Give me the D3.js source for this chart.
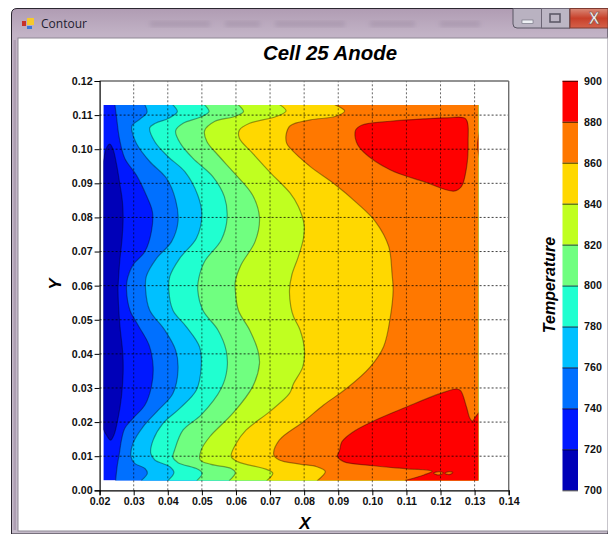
<!DOCTYPE html>
<html>
<head>
<meta charset="utf-8">
<title>Contour</title>
<script src="https://cdn.jsdelivr.net/npm/d3@7"></script>
<style>
  html, body { margin: 0; padding: 0; background: #fff; overflow: hidden; }
  svg { display: block; }
  .tick text, .label_title { font-family: "Liberation Sans", Arial, sans-serif; font-weight: bold; fill: #111; }
  .tick text { font-size: 10.7px; }
  .label_title { font-style: italic; text-anchor: middle; fill: #000; }
</style>
</head>
<body>
<svg id="chart" width="608" height="534"></svg>
<script>
let levels = [700, 720, 740, 760, 780, 800, 820, 840, 860, 880, 900]
let band_colors = ["#0000b8", "#0018ff", "#0070ff", "#00c0ff", "#20ffd0", "#70ff80", "#c0ff20", "#ffd800", "#ff7800", "#ff0000"]
let x_ticks = [0.02, 0.03, 0.04, 0.05, 0.06, 0.07, 0.08, 0.09, 0.10, 0.11, 0.12, 0.13, 0.14]
let y_ticks = [0, 0.01, 0.02, 0.03, 0.04, 0.05, 0.06, 0.07, 0.08, 0.09, 0.10, 0.11, 0.12]
let data_x = [0.0211, 0.1311]
let data_y = [0.0029, 0.113]

// isotherms, [x, y] in chart units, top to bottom
let iso720 = [[.0211,.0962],[.0220,.1003],[.0230,.1015],[.0240,.0998],[.0250,.0954],[.0259,.0900],[.0267,.0846],[.0269,.0798],[.0266,.0739],[.0259,.0671],[.0255,.0612],[.0254,.0587],[.0259,.0489],[.0268,.0401],[.0269,.0343],[.0264,.0274],[.0255,.0216],[.0242,.0162],[.0232,.0147],[.0220,.0162],[.0211,.0179]]
let iso740 = [[.0245,.113],[.0250,.1091],[.0258,.1032],[.0274,.0973],[.0308,.0924],[.0337,.0865],[.0355,.0816],[.0352,.0759],[.0333,.0700],[.0298,.0661],[.0282,.0622],[.0279,.0587],[.0289,.0528],[.0313,.0484],[.0345,.0426],[.0357,.0362],[.0352,.0304],[.0333,.0250],[.0298,.0211],[.0274,.0182],[.0264,.0147],[.0258,.0108],[.0252,.0074],[.0247,.0029]]
let iso760 = [[.0333,.113],[.0339,.1108],[.0318,.1088],[.0295,.1069],[.0295,.1052],[.0308,.1017],[.0347,.0964],[.0396,.0915],[.0423,.0851],[.0430,.0788],[.0411,.0729],[.0367,.0680],[.0337,.0627],[.0335,.0587],[.0347,.0528],[.0391,.0470],[.0423,.0411],[.0430,.0353],[.0415,.0284],[.0372,.0235],[.0328,.0187],[.0298,.0138],[.0292,.0099],[.0303,.0079],[.0333,.0064],[.0340,.0050],[.0323,.0029]]
let iso780 = [[.0415,.113],[.0428,.1110],[.0403,.1091],[.0364,.1076],[.0347,.1063],[.0362,.1022],[.0401,.0978],[.0450,.0934],[.0488,.0865],[.0500,.0807],[.0484,.0739],[.0435,.0680],[.0406,.0627],[.0403,.0587],[.0415,.0528],[.0454,.0480],[.0493,.0421],[.0498,.0362],[.0484,.0294],[.0435,.0240],[.0386,.0196],[.0357,.0147],[.0350,.0108],[.0362,.0089],[.0406,.0069],[.0418,.0052],[.0401,.0029]]
let iso800 = [[.0508,.113],[.0521,.1110],[.0493,.1093],[.0445,.1076],[.0423,.1054],[.0437,.1017],[.0474,.0973],[.0532,.0920],[.0566,.0861],[.0574,.0798],[.0557,.0734],[.0508,.0671],[.0491,.0622],[.0488,.0587],[.0503,.0528],[.0547,.0470],[.0571,.0411],[.0574,.0357],[.0557,.0299],[.0498,.0221],[.0445,.0177],[.0420,.0118],[.0415,.0097],[.0430,.0081],[.0488,.0062],[.0501,.0050],[.0486,.0029]]
let iso820 = [[.0607,.113],[.0622,.1110],[.0596,.1096],[.0537,.1081],[.0508,.1054],[.0515,.1022],[.0547,.0983],[.0596,.0929],[.0649,.0865],[.0669,.0798],[.0656,.0729],[.0615,.0661],[.0598,.0612],[.0598,.0587],[.0607,.0528],[.0640,.0470],[.0664,.0411],[.0669,.0372],[.0649,.0304],[.0591,.0226],[.0523,.0157],[.0498,.0118],[.0495,.0089],[.0527,.0076],[.0586,.0064],[.0598,.0052],[.0581,.0029]]
let iso840 = [[.0729,.113],[.0747,.1112],[.0718,.1096],[.0640,.1076],[.0610,.1056],[.0610,.1032],[.0649,.0988],[.0703,.0929],[.0759,.0871],[.0783,.0832],[.0800,.0778],[.0798,.0739],[.0783,.0685],[.0764,.0632],[.0757,.0587],[.0761,.0538],[.0769,.0509],[.0788,.0470],[.0801,.0411],[.0796,.0362],[.0769,.0313],[.0757,.0284],[.0698,.0230],[.0630,.0177],[.0601,.0138],[.0586,.0099],[.0605,.0084],[.0693,.0060],[.0708,.0050],[.0691,.0029]]
let iso860 = [[.0891,.113],[.0919,.1112],[.0891,.1096],[.0818,.1086],[.0759,.1069],[.0747,.1042],[.0749,.1017],[.0759,.1003],[.0818,.0949],[.0886,.0900],[.0955,.0842],[.1009,.0788],[.1048,.0715],[.1058,.0632],[.1061,.0587],[.1053,.0509],[.1033,.0421],[.0994,.0362],[.0925,.0299],[.0857,.0250],[.0798,.0201],[.0727,.0147],[.0711,.0104],[.0727,.0089],[.0786,.0077],[.0837,.0069],[.0862,.0055],[.0839,.0029]]
let iso880_low = [[.1314,.0230],[.1303,.0216],[.1293,.0203],[.1286,.0211],[.1276,.0245],[.1259,.0292],[.1247,.0297],[.1200,.0284],[.1102,.0245],[.0999,.0201],[.0940,.0169],[.0911,.0143],[.0904,.0118],[.0898,.0099],[.0916,.0084],[.1004,.0072],[.1102,.0063],[.1175,.0056],[.1151,.0045],[.1097,.0029]]
let iso880_top = [[.0951,.1056],[.0970,.1071],[.1053,.1082],[.1151,.1089],[.1220,.1092],[.1274,.1089],[.1281,.1022],[.1276,.0944],[.1261,.0890],[.1239,.0877],[.1151,.0905],[.1053,.0939],[.0975,.0991],[.0953,.1022]]
let iso880_edge = [[.1314,.1052],[.1308,.1012],[.1314,.0975]]
let lens_a = [[.1180,.0050],[.1195,.0055],[.1208,.0051],[.1195,.0045]]
let lens_b = [[.1213,.0050],[.1225,.0055],[.1236,.0052],[.1225,.0046]]

let width = 608,
    height = 534,
    margins = {left: 99.6, right: 99.3, top: 81, bottom: 43.7}

let svg = d3.select("#chart")

function make_scales() {
  return {
    x: d3.scaleLinear().domain([0.02, 0.14]).range([margins.left, width - margins.right]),
    y: d3.scaleLinear().domain([0, 0.12]).range([height - margins.bottom, margins.top]),
    bar: d3.scaleLinear().domain([700, 900]).range([height - margins.bottom, 80.8])
  }
}

function draw_window() {
  let defs = svg.append("defs")
  defs.append("filter").attr("id", "blur").append("feGaussianBlur").attr("stdDeviation", 2.2)
  let g = defs.append("linearGradient").attr("id", "glass").attr("x1", 0).attr("x2", 0).attr("y1", 0).attr("y2", 1)
  g.append("stop").attr("offset", "0").attr("stop-color", "#b09cb3")
  g.append("stop").attr("offset", "0.05").attr("stop-color", "#c2b3c6")
  g.append("stop").attr("offset", "1").attr("stop-color", "#c4bac9")
  let close = defs.append("linearGradient").attr("id", "closebtn").attr("x1", 0).attr("x2", 0).attr("y1", 0).attr("y2", 1)
  close.append("stop").attr("offset", "0").attr("stop-color", "#d98a78")
  close.append("stop").attr("offset", "0.5").attr("stop-color", "#c8402a")
  close.append("stop").attr("offset", "1").attr("stop-color", "#d4614a")

  let w = svg.append("g").attr("id", "window")
  w.append("path").attr("d", "M11.5,534V14Q11.5,8.5 17,8.5H608V534Z")
    .attr("fill", "url(#glass)").attr("stroke", "#2b2630").attr("stroke-width", 1)
  // blurred desktop showing through the glass
  let smudges = [[150, 210], [225, 260], [275, 345], [370, 415], [440, 480]]
  w.append("g").attr("filter", "url(#blur)").selectAll("rect").data(smudges).enter().append("rect")
    .attr("x", d => d[0]).attr("width", d => d[1] - d[0]).attr("y", 21).attr("height", 6)
    .attr("fill", "#9c8aa2").attr("opacity", 0.45)
  w.append("rect").attr("x", 18).attr("y", 38).attr("width", 590).attr("height", 493).attr("fill", "#fff")
    .attr("stroke", "#8f8a96").attr("stroke-width", 1)
  w.append("rect").attr("x", 13.5).attr("y", 40).attr("width", 2.5).attr("height", 490).attr("fill", "#a594aa").attr("opacity", 0.7)

  // app icon
  w.append("rect").attr("x", 22).attr("y", 21).attr("width", 4).attr("height", 5).attr("fill", "#c8322a")
  w.append("rect").attr("x", 27).attr("y", 18).attr("width", 7).attr("height", 7).attr("fill", "#f5c92e")
  w.append("rect").attr("x", 27).attr("y", 26).attr("width", 5).attr("height", 3).attr("fill", "#3a78d8")
  w.append("text").text("Contour").attr("x", 41).attr("y", 27.5)
    .style("font-family", "'Open Sans', 'Noto Sans', sans-serif").style("font-size", "12px").attr("fill", "#1d2030")

  // caption buttons
  w.append("path").attr("d", "M513,8.5V24Q513,28 517,28H570V8.5Z").attr("fill", "#b9b2c1").attr("stroke", "#5b5664")
  w.append("rect").attr("x", 541.5).attr("y", 8.5).attr("width", 28).attr("height", 19.5).attr("fill", "#bcb6c4").attr("stroke", "#6c6675")
  w.append("rect").attr("x", 570).attr("y", 8.5).attr("width", 38).attr("height", 19.5).attr("fill", "url(#closebtn)").attr("stroke", "#7d3a30")
  w.append("rect").attr("x", 522).attr("y", 20).attr("width", 11).attr("height", 3.5).attr("fill", "#eef0f4").attr("stroke", "#6a6a78").attr("stroke-width", 0.6)
  w.append("rect").attr("x", 550).attr("y", 14).attr("width", 10).attr("height", 8).attr("fill", "none").attr("stroke", "#5d5a68").attr("stroke-width", 1.6)
  w.append("text").text("X").attr("x", 594).attr("y", 24).attr("text-anchor", "middle")
    .style("font-family", "'Liberation Sans', sans-serif").style("font-size", "16px").style("font-weight", "bold")
    .attr("fill", "#f4eeee").attr("stroke", "#6a4a48").attr("stroke-width", 0.5)
}

function draw_contours(scales) {
  let x_max = scales.x(data_x[1]) + 4,
      y_low = scales.y(data_y[0]) + 4,
      y_top = scales.y(data_y[1]) - 4

  let path_generator = d3.line()
    .x(d => scales.x(d[0]))
    .y(d => scales.y(d[1]))
    .curve(d3.curveCatmullRom.alpha(0.5))
  let closed_generator = d3.line()
    .x(d => scales.x(d[0]))
    .y(d => scales.y(d[1]))
    .curve(d3.curveCatmullRomClosed.alpha(0.5))

  svg.append("clipPath").attr("id", "field").append("rect")
    .attr("x", scales.x(data_x[0])).attr("y", scales.y(data_y[1]))
    .attr("width", scales.x(data_x[1]) - scales.x(data_x[0]))
    .attr("height", scales.y(data_y[0]) - scales.y(data_y[1]))

  let field = svg.append("g").attr("id", "contours").attr("clip-path", "url(#field)")
  field.append("rect")
    .attr("x", scales.x(data_x[0])).attr("y", scales.y(data_y[1]))
    .attr("width", scales.x(data_x[1]) - scales.x(data_x[0]))
    .attr("height", scales.y(data_y[0]) - scales.y(data_y[1]))
    .attr("fill", band_colors[1])

  let line_style = sel => sel.attr("stroke", "#000").attr("stroke-opacity", 0.36).attr("stroke-width", 1.2)

  // dark core sits left of the 720 line
  field.append("path").attr("d", path_generator(iso720) + "Z")
    .attr("fill", band_colors[0]).call(line_style)

  // each later band covers everything to the right of its isotherm
  let right_side = [
    [iso740, 2], [iso760, 3], [iso780, 4], [iso800, 5], [iso820, 6], [iso840, 7], [iso860, 8], [iso880_low, 9]
  ]
  field.selectAll("path.band").data(right_side).enter().append("path")
    .attr("class", "band")
    .attr("d", d => {
      let start = d[0][0], end = d[0][d[0].length - 1]
      return path_generator(d[0])
        + `L${scales.x(end[0])},${y_low}L${x_max},${y_low}L${x_max},${y_top}L${scales.x(start[0])},${y_top}Z`
    })
    .attr("fill", d => band_colors[d[1]])
    .call(line_style)

  field.append("path").attr("d", closed_generator(iso880_top)).attr("fill", band_colors[9]).call(line_style)
  field.append("path").attr("d", path_generator(iso880_edge) + "Z").attr("fill", band_colors[9]).attr("stroke", "#000").attr("stroke-opacity", 0.3)
  field.selectAll("path.lens").data([lens_a, lens_b]).enter().append("path")
    .attr("class", "lens")
    .attr("d", closed_generator)
    .attr("fill", band_colors[8])
    .call(line_style)
}

function draw_grid(scales) {
  let grid = svg.append("g").attr("id", "grid")
    .attr("stroke", "#000").attr("stroke-width", 1).attr("stroke-dasharray", "2,2")
  grid.selectAll("line.v").data(x_ticks.slice(1, -1)).enter().append("line")
    .attr("class", "v")
    .attr("stroke-opacity", 0.6)
    .attr("x1", d => scales.x(d)).attr("x2", d => scales.x(d))
    .attr("y1", scales.y(0)).attr("y2", scales.y(0.12))
  grid.selectAll("line.h").data(y_ticks.slice(1, -1)).enter().append("line")
    .attr("class", "h")
    .attr("stroke-opacity", 0.75)
    .attr("x1", scales.x(0.02)).attr("x2", scales.x(0.14))
    .attr("y1", d => scales.y(d)).attr("y2", d => scales.y(d))
}

function annotations(scales) {
  let frame = svg.append("g").attr("id", "frame")
  frame.append("line").attr("x1", scales.x(0.02)).attr("x2", scales.x(0.14))
    .attr("y1", scales.y(0.12)).attr("y2", scales.y(0.12)).attr("stroke", "#6e6e6e").attr("stroke-width", 1.4)
  frame.append("line").attr("x1", scales.x(0.14)).attr("x2", scales.x(0.14))
    .attr("y1", scales.y(0)).attr("y2", scales.y(0.12)).attr("stroke", "#6e6e6e").attr("stroke-width", 1.4)

  let x_axis = d3.axisBottom(scales.x).tickValues(x_ticks).tickFormat(d3.format(".2f")).tickSizeOuter(0).tickSize(5).tickPadding(2)
  let y_axis = d3.axisLeft(scales.y).tickValues(y_ticks).tickFormat(d3.format(".2f")).tickSizeOuter(0).tickSize(5).tickPadding(2)
  svg.append("g").attr("transform", `translate(0, ${scales.y(0)})`).call(x_axis)
    .call(g => g.select(".domain").attr("stroke", "#000").attr("stroke-width", 1.2))
  svg.append("g").attr("transform", `translate(${scales.x(0.02)}, 0)`).call(y_axis)
    .call(g => g.select(".domain").attr("stroke", "#000").attr("stroke-width", 1.2))

  svg.append("text").attr("class", "label_title").text("Cell 25 Anode")
    .attr("x", 330).attr("y", 60).style("font-size", "20.4px")
  svg.append("text").attr("class", "label_title").text("X")
    .attr("x", 305).attr("y", 529).style("font-size", "17px")
  svg.append("text").attr("class", "label_title").text("Y")
    .attr("transform", "translate(61, 284)rotate(-90)").style("font-size", "17px")
  svg.append("text").attr("class", "label_title").text("Temperature")
    .attr("transform", "translate(555, 285)rotate(-90)").style("font-size", "16px")
}

function draw_colorbar(scales) {
  let bar_left = 562.5, bar_right = 578
  let bands = d3.pairs(levels)
  svg.append("g").attr("id", "colorbar").selectAll("rect").data(bands).enter().append("rect")
    .attr("x", bar_left)
    .attr("width", bar_right - bar_left)
    .attr("y", d => scales.bar(d[1]))
    .attr("height", d => scales.bar(d[0]) - scales.bar(d[1]))
    .attr("fill", (d, i) => band_colors[i])

  let axis = d3.axisRight(scales.bar).tickValues(levels).tickFormat(d3.format("d")).tickSizeInner(bar_left - bar_right).tickSizeOuter(0).tickPadding(6)
  svg.append("g").attr("transform", `translate(${bar_right}, 0)`).call(axis)
    .call(g => g.select(".domain").remove())
    .call(g => g.selectAll(".tick line").attr("stroke", "#000").attr("stroke-opacity", 0.75))
}

let scales = make_scales()
draw_window()
draw_contours(scales)
draw_grid(scales)
annotations(scales)
draw_colorbar(scales)
</script>
</body>
</html>
